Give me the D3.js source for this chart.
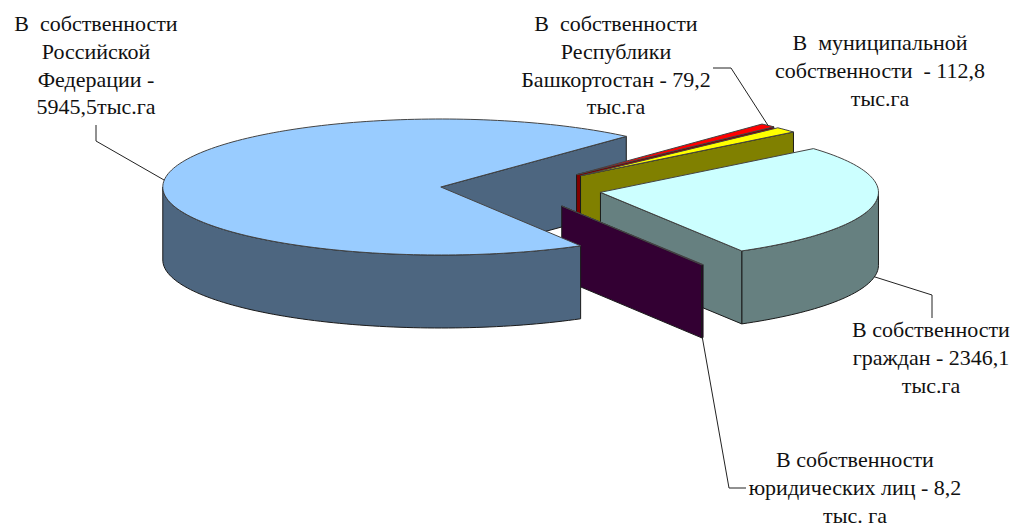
<!DOCTYPE html>
<meta charset="utf-8">
<script src="https://d3js.org/d3.v7.min.js"></script>
<style>
  body { margin: 0; background: #fff; }
  text { font-family: "Liberation Serif", serif; font-size: 22px; fill: #111; text-anchor: middle; white-space: pre; }
</style>
<svg id="chart" width="1014" height="524"></svg>

<script>
// land by owner, thousand ha (order as in the pie, clockwise)
var owners = ["federal", "bashkortostan", "municipal", "citizens", "legal"];
var areas = [5945.5, 79.2, 112.8, 2346.1, 8.2];
var topColors = ["#99CCFF", "#FF0000", "#FFFF00", "#CCFFFF", "#660066"];
var sideColors = ["#4D6680", "#800000", "#808000", "#668080", "#330033"];

var labelLines = [
  ["В  собственности", "Российской", "Федерации -", "5945,5тыс.га"],
  ["В  собственности", "Республики", "Башкортостан - 79,2", "тыс.га"],
  ["В  муниципальной", "собственности  - 112,8", "тыс.га"],
  ["В собственности", "граждан - 2346,1", "тыс.га"],
  ["В собственности", "юридических лиц - 8,2", "тыс. га"]
];

// label placement: block centre, first baseline, leader elbows
var labelX = [96, 616, 880, 931, 855];
var labelY = [31, 31, 50, 337, 467];
var lineStep = 27.8;
var leaders = [
  {bottom: false, pts: [[96, 141], [96, 125]]},
  {bottom: false, pts: [[731, 68], [713, 68]]},
  null, // municipal has no leader
  {bottom: true, pts: [[932, 295], [932, 318]]},
  {bottom: true, pts: [[729, 488], [746, 488]]}
];

// pie geometry
var cx = 521, cy = 189, rx = 278, ry = 68, depth = 73, explode = 0.29;
var start = 149.8 * Math.PI / 180;

var svg = d3.select("#chart");

var pie = d3.pie().sort(null).startAngle(start).endAngle(start + 2 * Math.PI);
var arcs = pie(areas);

arcs.forEach(function(d, i) {
  var mid = (d.startAngle + d.endAngle) / 2;
  d.i = i;
  d.mid = mid;
  d.ox = cx + explode * rx * Math.sin(mid);
  d.oy = cy - explode * ry * Math.cos(mid);
});

function rim(d, a, down) {
  return [d.ox + rx * Math.sin(a), d.oy - ry * Math.cos(a) + (down ? depth : 0)];
}

function arcPoints(d, a0, a1, down) {
  var n = Math.max(2, Math.ceil(Math.abs(a1 - a0) * 40));
  return d3.range(n + 1).map(function(k) { return rim(d, a0 + (a1 - a0) * k / n, down); });
}

var line = d3.line();
var g = svg.append("g").attr("stroke-linejoin", "round");

function closed(pts) { return line(pts) + "Z"; }

// end face of a slice (the start face always looks away from us here)
function drawFace(d) {
  if (Math.sin(d.endAngle) <= 0) return;
  var r0 = rim(d, d.endAngle, false), r1 = rim(d, d.endAngle, true);
  g.append("path")
    .attr("d", closed([[d.ox, d.oy], r0, r1, [d.ox, d.oy + depth]]))
    .attr("fill", sideColors[d.i])
    .attr("stroke", "#1a1a1a")
    .attr("stroke-width", 1);
}

// outer wall, only the part between 90 and 270 degrees faces us (angles run past 360 here)
function drawWall(d) {
  [0, 2 * Math.PI].forEach(function(turn) {
    var a0 = Math.max(d.startAngle, Math.PI / 2 + turn), a1 = Math.min(d.endAngle, 1.5 * Math.PI + turn);
    if (a1 <= a0) return;
    var pts = arcPoints(d, a0, a1, false).concat(arcPoints(d, a1, a0, true));
    g.append("path")
      .attr("d", closed(pts))
      .attr("fill", sideColors[d.i])
      .attr("stroke", "#1a1a1a")
      .attr("stroke-width", 1);
  });
}

function drawTop(d) {
  var pts = [[d.ox, d.oy]].concat(arcPoints(d, d.startAngle, d.endAngle, false));
  g.append("path")
    .attr("d", closed(pts))
    .attr("fill", topColors[d.i])
    .attr("stroke", "#444")
    .attr("stroke-width", 1);
}

// painter's order: back of the big slice, small slices, then the big slice front
drawFace(arcs[0]);
[1, 2, 3, 4].forEach(function(i) {
  drawWall(arcs[i]);
  drawFace(arcs[i]);
  drawTop(arcs[i]);
});
drawWall(arcs[0]);
drawTop(arcs[0]);

// leaders
leaders.forEach(function(l, i) {
  if (!l) return;
  var pts = [rim(arcs[i], arcs[i].mid, l.bottom)].concat(l.pts);
  svg.append("path")
    .attr("d", line(pts))
    .attr("fill", "none")
    .attr("stroke", "#222")
    .attr("stroke-width", 1);
});

// labels
labelLines.forEach(function(lines, i) {
  svg.append("g").selectAll("text")
    .data(lines)
    .join("text")
    .attr("x", labelX[i])
    .attr("y", function(d, k) { return labelY[i] + k * lineStep; })
    .text(function(d) { return d; });
});
</script>
